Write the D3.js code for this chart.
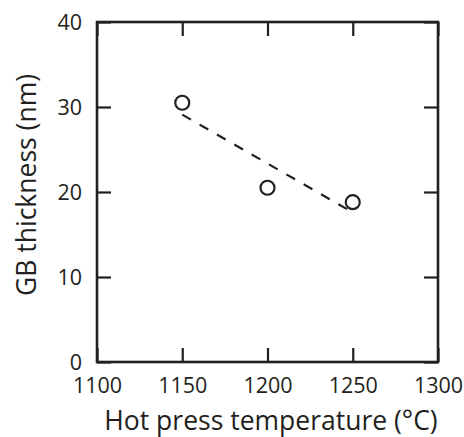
<!DOCTYPE html>
<html>
<head>
<meta charset="utf-8">
<script src="https://cdn.jsdelivr.net/npm/d3@7"></script>
<style>
  html, body { margin: 0; padding: 0; background: #fff; }
  svg { display: block; }
  text { font-family: "Open Sans", "Noto Sans", sans-serif; fill: #231f20; }
</style>
</head>
<body>
<svg id="chart" width="464" height="437"></svg>
<script>
// Data
const temperatures = [1150, 1200, 1250];
const thickness = [30.5, 20.5, 18.8];
const fitX = [1150, 1250];
const fitY = [29.1, 17.6];
const xTicks = [1100, 1150, 1200, 1250, 1300];
const yTicks = [0, 10, 20, 30, 40];
const xLabel = "Hot press temperature (°C)";
const yLabel = "GB thickness (nm)";

(function () {
const svg = d3.select("#chart");
const mLeft = 97, mRight = 438, mTop = 22, mBottom = 362;
const ink = "#231f20";

const x = d3.scaleLinear().domain([1100, 1300]).range([mLeft, mRight]);
const y = d3.scaleLinear().domain([0, 40]).range([mBottom, mTop]);

const tickLen = 14;

const gx = svg.append("g").attr("transform", `translate(0,${mBottom})`)
  .call(d3.axisBottom(x).tickValues(xTicks).tickSizeInner(-tickLen).tickSizeOuter(0).tickPadding(16).tickFormat(d3.format("d")));
const gy = svg.append("g").attr("transform", `translate(${mLeft},0)`)
  .call(d3.axisLeft(y).tickValues(yTicks).tickSizeInner(-tickLen).tickSizeOuter(0).tickPadding(15).tickFormat(d3.format("d")));
const gt = svg.append("g").attr("transform", `translate(0,${mTop})`)
  .call(d3.axisTop(x).tickValues(xTicks).tickSizeInner(-tickLen).tickSizeOuter(0).tickFormat(""));
const gr = svg.append("g").attr("transform", `translate(${mRight},0)`)
  .call(d3.axisRight(y).tickValues(yTicks).tickSizeInner(-tickLen).tickSizeOuter(0).tickFormat(""));

[gx, gy, gt, gr].forEach(g => {
  g.select(".domain").remove();
  g.selectAll(".tick line").attr("stroke", ink).attr("stroke-width", 2.2);
  g.selectAll(".tick text").attr("fill", ink).style("font-size", "21.5px");
});
gy.selectAll(".tick text").attr("dy", "0.36em");

svg.append("rect")
  .attr("x", mLeft).attr("y", mTop)
  .attr("width", mRight - mLeft).attr("height", mBottom - mTop)
  .attr("fill", "none").attr("stroke", ink).attr("stroke-width", 2.6);

svg.append("line")
  .attr("x1", x(fitX[0])).attr("y1", y(fitY[0]))
  .attr("x2", x(fitX[1])).attr("y2", y(fitY[1]))
  .attr("stroke", ink).attr("stroke-width", 2.2)
  .attr("stroke-dasharray", "10,10");

svg.append("g").selectAll("circle")
  .data(temperatures.map((t, i) => [t, thickness[i]]))
  .join("circle")
  .attr("cx", d => x(d[0])).attr("cy", d => y(d[1]))
  .attr("r", 7)
  .attr("fill", "none").attr("stroke", ink).attr("stroke-width", 2.2);

svg.append("text")
  .attr("x", 271).attr("y", 430)
  .attr("text-anchor", "middle")
  .style("font-size", "26.5px")
  .text(xLabel);

svg.append("text")
  .attr("transform", `translate(36,185) rotate(-90)`)
  .attr("text-anchor", "middle")
  .style("font-size", "26.5px")
  .text(yLabel);
})();
</script>
</body>
</html>
